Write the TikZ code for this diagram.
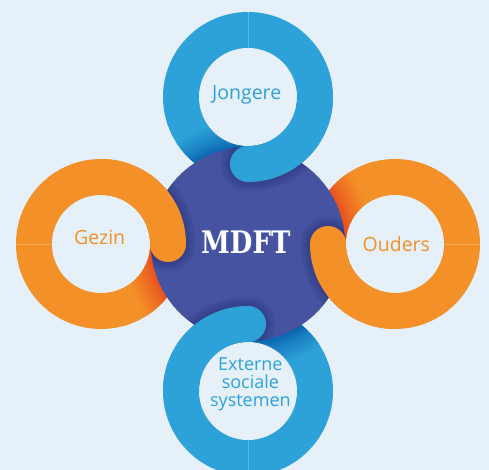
\documentclass[tikz,border=0pt]{standalone}
\usepackage{fontspec}
\setmainfont{Open Sans}
\newfontfamily\mdftfont{DejaVu Serif}
\definecolor{bg}{HTML}{E6F0F9}
\definecolor{ringblue}{HTML}{2DA2D9}
\definecolor{ringblueD}{HTML}{0A66B0}
\definecolor{ringorange}{HTML}{F39027}
\definecolor{ringorangeD}{HTML}{E8501F}
\definecolor{mdftpurple}{HTML}{4553A1}
\definecolor{mdftshadow}{HTML}{1E2558}
\pgfdeclareradialshading{blueshadow}{\pgfpointorigin}{color(0bp)=(ringblueD); color(19.4bp)=(ringblueD); color(21.5bp)=(ringblueD!55!ringblue); color(25bp)=(ringblue); color(50bp)=(ringblue)}
\pgfdeclareradialshading{orangeshadow}{\pgfpointorigin}{color(0bp)=(ringorangeD); color(19.4bp)=(ringorangeD); color(21.5bp)=(ringorangeD!55!ringorange); color(25bp)=(ringorange); color(50bp)=(ringorange)}
\tikzset{
  frontarc/.style={line width=36pt, line cap=round},
  seam/.style={line width=0.5pt},
  label/.style={inner sep=0pt, anchor=base, font=\fontsize{19.5}{22}\selectfont},
}
\begin{document}
\begin{tikzpicture}[x=1pt,y=1pt]
\fill[bg] (0,0) rectangle (489,470);
\useasboundingbox (0,0) rectangle (489,470);
\coordinate (mc) at (248,226);
\coordinate (tc) at (248,373);
\coordinate (bc) at (248,79);
\coordinate (lc) at (101,226);
\coordinate (rc) at (395,226);
% rings with hidden-part shadow
\foreach \c/\col/\sh/\sa in {tc/ringblue/blueshadow/90, bc/ringblue/blueshadow/270, lc/ringorange/orangeshadow/180, rc/ringorange/orangeshadow/0}{
  \fill[\col] (\c) circle (85);
  \begin{scope}
    \clip (\c) circle (85);
    \shade[shading=\sh] (mc) circle (125);
  \end{scope}
  \fill[bg] (\c) circle (49);
  \draw[seam, white!22!\col] ([shift={(\sa:49)}]\c) -- ([shift={(\sa:85)}]\c);
}
% central circle
\fill[mdftpurple] (mc) circle (97);
% soft shadows of the front arcs on the central circle
\begin{scope}
  \clip (mc) circle (97);
  \foreach \k in {1,...,10}{
    \draw[mdftshadow, opacity=0.03, line width=36pt+2*\k pt, line cap=round]
      ([shift={(0:67)}]tc) arc[start angle=0, end angle=-90, radius=67];
    \draw[mdftshadow, opacity=0.03, line width=36pt+2*\k pt, line cap=round]
      ([shift={(180:67)}]bc) arc[start angle=180, end angle=90, radius=67];
    \draw[mdftshadow, opacity=0.03, line width=36pt+2*\k pt, line cap=round]
      ([shift={(90:67)}]lc) arc[start angle=90, end angle=0, radius=67];
    \draw[mdftshadow, opacity=0.03, line width=36pt+2*\k pt, line cap=round]
      ([shift={(270:67)}]rc) arc[start angle=270, end angle=180, radius=67];
  }
\end{scope}
% front arcs
\draw[frontarc, ringblue] ([shift={(0:67)}]tc) arc[start angle=0, end angle=-90, radius=67];
\draw[frontarc, ringblue] ([shift={(180:67)}]bc) arc[start angle=180, end angle=90, radius=67];
\draw[frontarc, ringorange] ([shift={(90:67)}]lc) arc[start angle=90, end angle=0, radius=67];
\draw[frontarc, ringorange] ([shift={(270:67)}]rc) arc[start angle=270, end angle=180, radius=67];
% labels
\node[label, text=ringblue] (jongere) at (246.7,370) {Jongere};
\node[label, text=ringorange] (gezin) at (99.7,225) {Gezin};
\node[label, text=ringorange] (ouders) at (396.3,218.3) {Ouders};
\node[label, text=ringblue, align=center, font=\fontsize{18}{18.3}\selectfont] (externe) at (250.4,63.3) {Externe\\sociale\\systemen};
\node[inner sep=0pt, anchor=base, text=white, font=\mdftfont\bfseries\fontsize{31}{34}\selectfont] (mdft) at (245.8,216.7) {\scalebox{0.84}[1]{MDFT}};
\end{tikzpicture}
\end{document}
